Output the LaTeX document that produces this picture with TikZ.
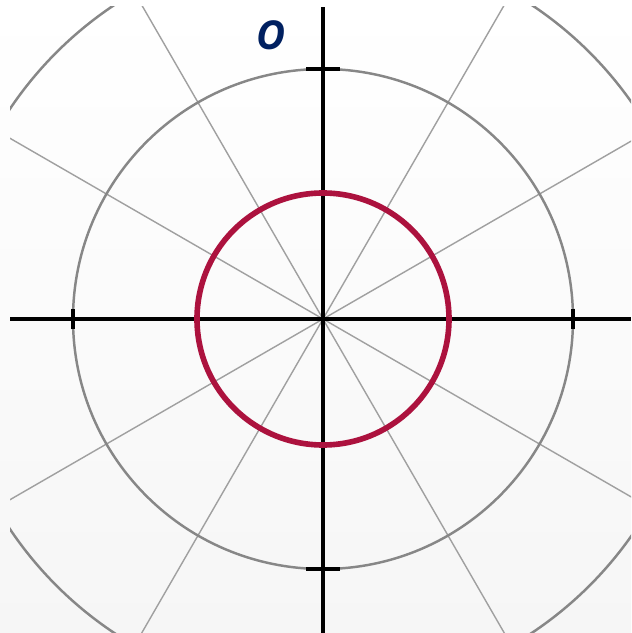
\documentclass[tikz,border=0pt]{standalone}
\usepackage{fontspec}
\setsansfont{Open Sans}
\usetikzlibrary{calc}
\definecolor{ringred}{RGB}{172,18,62}
\definecolor{labelnavy}{RGB}{0,32,96}
\definecolor{ringgray}{RGB}{135,135,135}
\definecolor{raygray}{RGB}{160,160,160}

\begin{document}
\begin{tikzpicture}[x=0.03cm,y=0.03cm]
  \shade[top color=white,bottom color=gray!7] (0,0) rectangle (631,633);
  \useasboundingbox (0,0) rectangle (631,633);
  \coordinate (origin) at (323,314);
  \begin{scope}
    \clip (10,0) rectangle (631,626);
    \foreach \a in {30,60,120,150,210,240,300,330}{\draw[raygray,line width=1.2pt] (origin)--++(\a:520);}
    \draw[ringgray,line width=2.1pt] (origin) circle (250);
    \draw[ringgray,line width=2.1pt] (origin) circle (377);
    \draw[black,line width=3pt] (10,314)--(631,314);
    \draw[black,line width=3pt] (323,0)--(323,626);
    \foreach \a/\len in {0/10,90/17,180/10,270/17}{
      \draw[black,line width=4pt] ($(origin)+(\a:250)+(\a+90:\len)$)--($(origin)+(\a:250)+(\a-90:\len)$);
    }
    \draw[ringred,line width=4.8pt] (origin) circle (126);
  \end{scope}
  \node[labelnavy,font=\sffamily\bfseries\itshape\fontsize{34}{34}\selectfont] (olabel) at (271,598) {O};
\end{tikzpicture}
\end{document}
